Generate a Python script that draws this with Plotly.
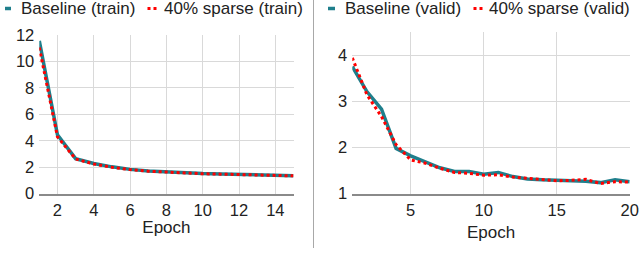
import plotly.graph_objects as go

# ---- data ----
train_epochs = list(range(1, 16))
train_baseline = [11.55, 4.45, 2.65, 2.28, 2.03, 1.84, 1.72, 1.64, 1.57, 1.52, 1.49, 1.46, 1.43, 1.40, 1.36]
train_sparse = [11.05, 4.30, 2.62, 2.25, 2.00, 1.82, 1.70, 1.62, 1.55, 1.51, 1.48, 1.45, 1.42, 1.40, 1.35]

valid_epochs = list(range(1, 21))
valid_baseline = [3.75, 3.21, 2.83, 1.98, 1.82, 1.68, 1.56, 1.48, 1.48, 1.42, 1.46, 1.37, 1.32, 1.30,
                  1.29, 1.28, 1.27, 1.24, 1.30, 1.26]
valid_sparse = [3.94, 3.14, 2.67, 2.06, 1.73, 1.66, 1.55, 1.46, 1.44, 1.40, 1.41, 1.36, 1.33, 1.31,
                1.28, 1.29, 1.31, 1.22, 1.26, 1.25]

left_xticks = [2, 4, 6, 8, 10, 12, 14]
left_yticks = [0, 2, 4, 6, 8, 10, 12]
right_xticks = [5, 10, 15, 20]
right_yticks = [1, 2, 3, 4]

legend_labels = ["Baseline (train)", "40% sparse (train)", "Baseline (valid)", "40% sparse (valid)"]
caption = ("<b>Fig. 4:</b>&nbsp;&nbsp;&nbsp;Each&nbsp;&nbsp;loss&nbsp;&nbsp;curve&nbsp;&nbsp;of&nbsp;&nbsp;the&nbsp;&nbsp;"
           "baseline&nbsp;&nbsp;and&nbsp;&nbsp;the&nbsp;&nbsp;sparse&nbsp;&nbsp;model&nbsp;&nbsp;with&nbsp;&nbsp;40%")

TEAL = "#1f7f8c"
RED = "#ff0000"
W, H = 640, 274
FONT = "Liberation Sans, Arial, sans-serif"

def px(x):
    return x / W

def py(y):
    return (H - y) / H

fig = go.Figure()

fig.add_trace(go.Scatter(x=train_epochs, y=train_baseline, mode="lines",
                         line=dict(color=TEAL, width=3.5), xaxis="x", yaxis="y", showlegend=False))
fig.add_trace(go.Scatter(x=train_epochs, y=train_sparse, mode="lines",
                         line=dict(color=RED, width=3, dash="dot"), xaxis="x", yaxis="y", showlegend=False))
fig.add_trace(go.Scatter(x=valid_epochs, y=valid_baseline, mode="lines",
                         line=dict(color=TEAL, width=3.5), xaxis="x2", yaxis="y2", showlegend=False))
fig.add_trace(go.Scatter(x=valid_epochs, y=valid_sparse, mode="lines",
                         line=dict(color=RED, width=3, dash="dot"), xaxis="x2", yaxis="y2", showlegend=False))

axis_common = dict(showgrid=True, gridcolor="#d9d9d9", gridwidth=1, zeroline=False, automargin=False,
                   tickfont=dict(family=FONT, size=16.5, color="#222"), ticks="")

fig.update_layout(
    template="none",
    width=W, height=H,
    margin=dict(l=0, r=0, t=0, b=0, pad=0),
    paper_bgcolor="white", plot_bgcolor="white",
    showlegend=False,
    font=dict(family=FONT, color="#222"),
    xaxis=dict(domain=[px(39.3), px(293.5)], range=[1, 15], tickvals=left_xticks,
               showline=True, linecolor="#8a8a8a", linewidth=2, anchor="y",
               title=dict(text="Epoch", font=dict(family=FONT, size=17, color="#222"), standoff=4),
               **axis_common),
    yaxis=dict(domain=[py(193.7), py(35)], range=[0, 12], tickvals=left_yticks, anchor="x",
               showline=False, ticklabelstandoff=4, **axis_common),
    xaxis2=dict(domain=[px(352.3), px(629.7)], range=[1, 20], tickvals=right_xticks,
                showline=True, linecolor="#8a8a8a", linewidth=2, anchor="y2",
                title=dict(text="Epoch", font=dict(family=FONT, size=17, color="#222"), standoff=9),
                **axis_common),
    yaxis2=dict(domain=[py(193.7), py(31.9)], range=[1, 4.5], tickvals=right_yticks, anchor="x2",
                showline=False, ticklabelstandoff=4, **axis_common),
)

# legend samples and separator (paper coordinates)
shapes = [
    dict(type="line", xref="paper", yref="paper", x0=px(5), x1=px(11), y0=py(8.5), y1=py(8.5),
         line=dict(color=TEAL, width=3.5)),
    dict(type="line", xref="paper", yref="paper", x0=px(147.5), x1=px(157), y0=py(8.5), y1=py(8.5),
         line=dict(color=RED, width=3, dash="dot")),
    dict(type="line", xref="paper", yref="paper", x0=px(328), x1=px(335), y0=py(8.5), y1=py(8.5),
         line=dict(color=TEAL, width=3.5)),
    dict(type="line", xref="paper", yref="paper", x0=px(473.5), x1=px(483), y0=py(8.5), y1=py(8.5),
         line=dict(color=RED, width=3, dash="dot")),
    dict(type="line", xref="paper", yref="paper", x0=px(313.5), x1=px(313.5), y0=py(0), y1=py(248),
         line=dict(color="#a8a8a8", width=1)),
]
fig.update_layout(shapes=shapes)

legend_x = [19, 161.5, 342.5, 487]
annotations = []
for lx, lab in zip(legend_x, legend_labels):
    annotations.append(dict(text=lab, xref="paper", yref="paper", x=px(lx), y=py(8.5),
                            xanchor="left", yanchor="middle", showarrow=False,
                            font=dict(family=FONT, size=17, color="#222")))
annotations.append(dict(text=caption, xref="paper", yref="paper", x=px(-1), y=py(270),
                        xanchor="left", yanchor="top", showarrow=False,
                        font=dict(family="Liberation Serif, Times New Roman, serif", size=21, color="#000")))
fig.update_layout(annotations=annotations)

fig.write_html("out.html", config={"displayModeBar": False},
               post_script="document.body.style.margin='0';document.body.style.overflow='hidden';")
